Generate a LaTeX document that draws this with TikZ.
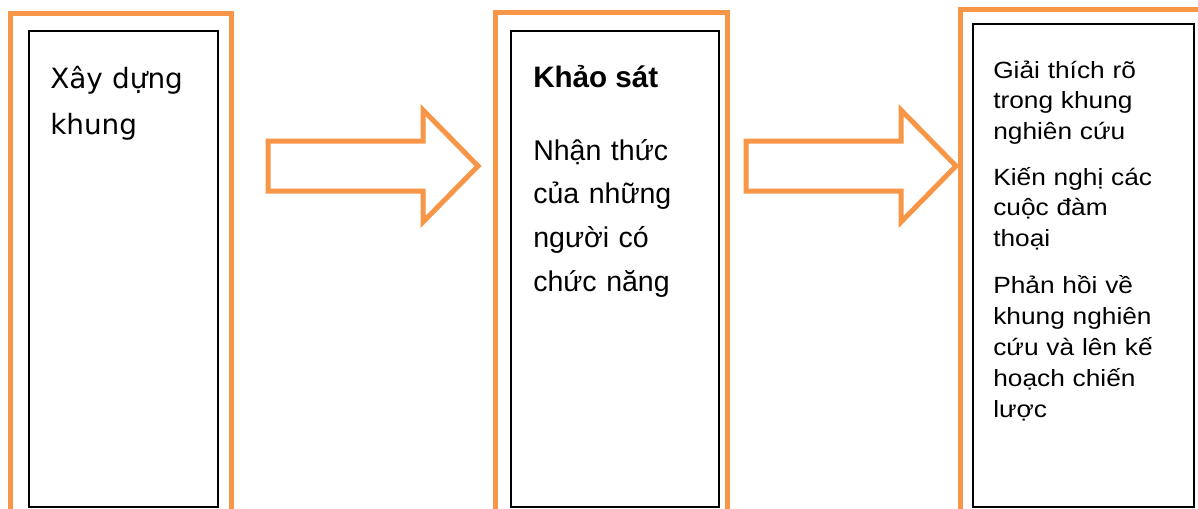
\documentclass[tikz,border=0pt]{standalone}
\usepackage{fontspec}
\setmainfont{Liberation Sans}
\newfontfamily\framefont{DejaVu Sans}
\newfontfamily\widefont[FakeStretch=1.12]{Liberation Sans}
\definecolor{frameorange}{HTML}{F79646}

\begin{document}
\begin{tikzpicture}[x=0.75pt, y=-0.75pt,
    frameline/.style={draw=frameorange, line width=3.75pt},
    innerbox/.style={draw=black, line width=0.9pt},
    blockarrow/.style={draw=frameorange, line width=3.75pt, fill=white},
    textnode/.style={anchor=base west, inner sep=0pt, align=left},
    ]
\useasboundingbox (0,0) rectangle (1198,508);

% Outer frames, open at the bottom
\draw[frameline] (10,530) |- (231,13) -- (231,530);
\draw[frameline] (495,530) |- (727,12.5) -- (727,530);
\draw[frameline] (960,530) |- (1220,9.5);

% Inner boxes
\draw[innerbox] (29,31) rectangle (218,507);
\draw[innerbox] (511,31) rectangle (719,507);
\draw[innerbox] (973,24) rectangle (1194,507);

% Block arrows between frames
\foreach \x in {268,746} {
    \draw[blockarrow] (\x,141) -- ++(155,0) -- ++(0,-31) -- ++(55,56)
        -- ++(-55,56) -- ++(0,-31) -- ++(-155,0) -- cycle;
}

% First frame
\node[textnode, text width=160pt, font=\framefont\fontsize{20.9pt}{34.5pt}\selectfont] (build) at (50,88) {Xây dựng\\khung};

% Second frame
\node[textnode, font=\bfseries\fontsize{22.2pt}{25pt}\selectfont] (survey) at (533,87) {Khảo sát};
\node[textnode, text width=150pt, font=\fontsize{21.4pt}{32.8pt}\selectfont] (perception) at (533,160) {Nhận thức\\của những\\người có\\chức năng};

% Third frame
\node[textnode, text width=160pt, font=\widefont\fontsize{17.6pt}{22.9pt}\selectfont] (explain) at (993,78) {Giải thích rõ\\trong khung\\nghiên cứu};
\node[textnode, text width=160pt, font=\widefont\fontsize{17.6pt}{22.9pt}\selectfont] (propose) at (993,185) {Kiến nghị các\\cuộc đàm\\thoại};
\node[textnode, text width=160pt, font=\widefont\fontsize{17.6pt}{23.3pt}\selectfont] (feedback) at (993,293) {Phản hồi về\\khung nghiên\\cứu và lên kế\\hoạch chiến\\lược};

\end{tikzpicture}
\end{document}
